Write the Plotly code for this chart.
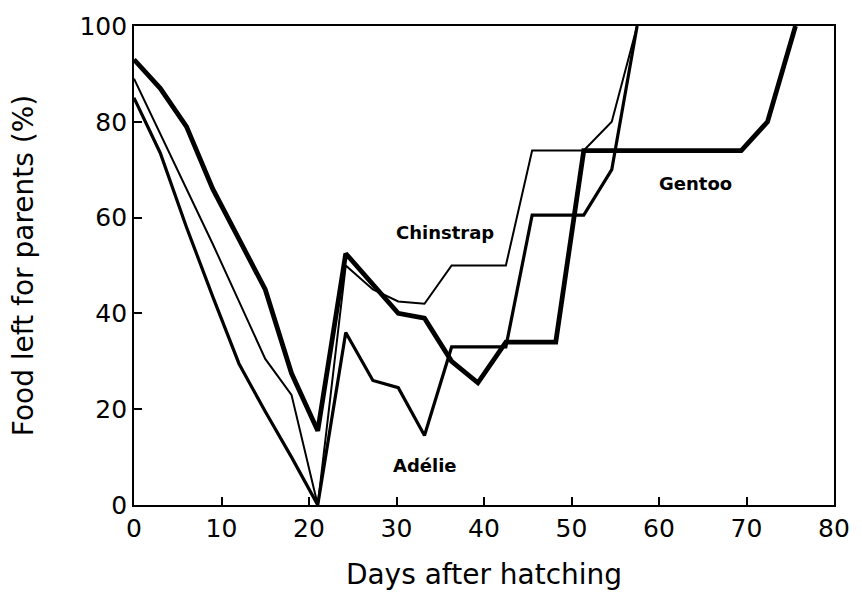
import plotly.graph_objects as go

# Days after hatching at which each value was recorded
days_short = [0, 3, 6, 9, 12, 15, 18, 21, 24.2, 27.3, 30.2, 33.2, 36.3, 39.3, 42.5, 45.5,
              48.2, 51.4, 54.6, 57.5]
days_long = days_short + [60.5, 63.5, 66.5, 69.4, 72.4, 75.6]

# Food left for parents (%)
gentoo = [93, 87, 79, 66, 55.5, 45, 27.5, 15.5, 52.5, 46, 40, 39, 30, 25.5, 34, 34, 34,
          74, 74, 74, 74, 74, 74, 74, 80, 100]
chinstrap = [89, 77.5, 66, 54.5, 42.5, 30.5, 23, 0, 50, 45, 42.5, 42, 50, 50, 50, 74, 74,
             74, 80, 100]
adelie = [85, 73.5, 58, 43.5, 29.5, 19.5, 10, 0, 36, 26, 24.5, 14.5, 33, 33, 33, 60.5,
          60.5, 60.5, 70, 100]

x_ticks = [0, 10, 20, 30, 40, 50, 60, 70, 80]
y_ticks = [0, 20, 40, 60, 80, 100]

fig = go.Figure()
fig.add_trace(go.Scatter(x=days_short, y=adelie, mode="lines", name="Adélie",
                         line=dict(color="black", width=3.2)))
fig.add_trace(go.Scatter(x=days_short, y=chinstrap, mode="lines", name="Chinstrap",
                         line=dict(color="black", width=2)))
fig.add_trace(go.Scatter(x=days_long, y=gentoo, mode="lines", name="Gentoo",
                         line=dict(color="black", width=4.8)))

label_font = dict(family="DejaVu Sans", size=18, color="black")
for text, lx, ly in [("Chinstrap", 35.5, 56.9), ("Gentoo", 64.2, 67.1), ("Adélie", 33.2, 8.3)]:
    fig.add_annotation(x=lx, y=ly, text="<b>" + text + "</b>", showarrow=False,
                       font=label_font, xanchor="center", yanchor="middle")

axis_common = dict(
    showgrid=False, zeroline=False, showline=True, linecolor="black", linewidth=1.8,
    mirror=True, ticks="inside", ticklen=8, tickwidth=1.5, tickcolor="black",
    tickfont=dict(family="DejaVu Sans", size=25, color="black"),
)

fig.update_layout(
    width=862, height=598,
    margin=dict(l=134, r=20, t=25, b=93),
    paper_bgcolor="white", plot_bgcolor="white",
    showlegend=False,
    xaxis=dict(range=[0, 80], tickvals=x_ticks,
               title=dict(text="Days after hatching", standoff=22,
                          font=dict(family="DejaVu Sans", size=28, color="black")),
               **axis_common),
    yaxis=dict(range=[0, 100], tickvals=y_ticks,
               title=dict(text="Food left for parents (%)", standoff=38,
                          font=dict(family="DejaVu Sans", size=28, color="black")),
               **axis_common),
)

fig.write_html("out.html")
